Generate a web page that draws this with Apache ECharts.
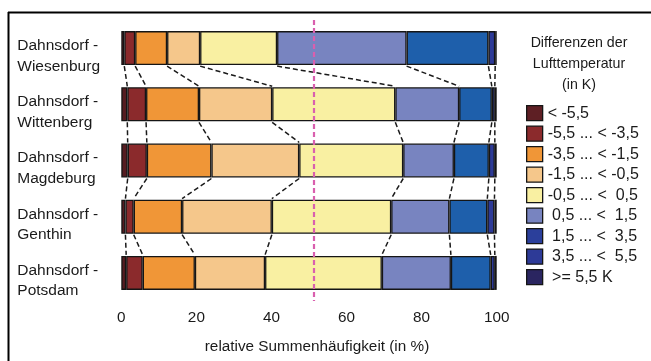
<!DOCTYPE html>
<html>
<head>
<meta charset="utf-8">
<script src="https://cdn.jsdelivr.net/npm/echarts@6/dist/echarts.min.js"></script>
<style>
html,body{margin:0;padding:0;background:#fff;}
#chart{width:651px;height:361px;}
</style>
</head>
<body>
<div id="chart"></div>
<script>
// ---- data ----
const categories = [
  'Dahnsdorf -\nWiesenburg',
  'Dahnsdorf -\nWittenberg',
  'Dahnsdorf -\nMagdeburg',
  'Dahnsdorf -\nGenthin',
  'Dahnsdorf -\nPotsdam'
];
const classLabels = [
  '< -5,5',
  '-5,5 ... < -3,5',
  '-3,5 ... < -1,5',
  '-1,5 ... < -0,5',
  '-0,5 ... <  0,5',
  ' 0,5 ... <  1,5',
  ' 1,5 ... <  3,5',
  ' 3,5 ... <  5,5',
  ' >= 5,5 K'
];
const ltM55   = [0.8, 1.6, 1.7, 1.1, 1.3];
const m55m35  = [2.9, 5.0, 5.1, 2.2, 4.4];
const m35m15  = [8.5, 14.1, 17.2, 12.9, 13.9];
const m15m05  = [8.8, 19.5, 23.4, 23.9, 18.7];
const m05p05  = [20.5, 32.8, 27.7, 31.8, 31.1];
const p05p15  = [34.5, 17.0, 13.5, 15.5, 18.4];
const p15p35  = [21.8, 8.7, 9.3, 10.1, 10.6];
const p35p55  = [1.8, 0.8, 1.6, 1.9, 1.1];
const geP55   = [0.4, 0.5, 0.5, 0.6, 0.5];
const referenceLine = 51.3;
const xTicks = [0, 20, 40, 60, 80, 100];

const seriesValues = [ltM55, m55m35, m35m15, m15m05, m05p05, p05p15, p15p35, p35p55, geP55];
const colors = ['#561c21', '#8b2a2c', '#f09637', '#f5c78b', '#f9f0a2', '#7884c0', '#1e5fab', '#2d3a97', '#2a2560'];
const legendColors = ['#5e1f24', '#8b2a2c', '#f09637', '#f5c78b', '#f9f0a2', '#7884c0', '#2b3f9b', '#2d3a97', '#2a2560'];

// cumulative boundaries for connector lines
const cum = categories.map((c, r) => {
  let s = 0; const out = [];
  for (let k = 0; k < seriesValues.length; k++) { s += seriesValues[k][r]; out.push(s); }
  return out;
});
const connectors = [];
for (let r = 0; r < categories.length - 1; r++) {
  for (let k = 0; k < seriesValues.length - 1; k++) {
    connectors.push([cum[r][k], r, cum[r + 1][k]]);
  }
}

const FONT = "'Liberation Sans', Arial, sans-serif";
const BAR_W = 34;

const chart = echarts.init(document.getElementById('chart'), null, {renderer: 'canvas'});

const barSeries = seriesValues.map((vals, i) => ({
  name: classLabels[i],
  type: 'bar',
  stack: 'total',
  barWidth: BAR_W,
  data: vals,
  itemStyle: {color: colors[i], borderColor: '#151515', borderWidth: 1.3},
  emphasis: {disabled: true},
  animation: false
}));
barSeries[barSeries.length - 1].markLine = {
  silent: true,
  symbol: ['none', 'none'],
  label: {show: false},
  lineStyle: {color: '#d95fae', width: 2.2, type: [5, 3]},
  data: [{xAxis: referenceLine}],
  z: 20
};

chart.setOption({
  animation: false,
  textStyle: {fontFamily: FONT},
  grid: {left: 121.3, right: 154.3, top: 20, bottom: 60, containLabel: false},
  xAxis: {
    type: 'value',
    min: 0, max: 100, interval: 20,
    axisLine: {show: false},
    axisTick: {show: false},
    splitLine: {show: false},
    axisLabel: {
      margin: 9, fontSize: 15.3, color: '#1a1a1a', fontFamily: FONT,
      formatter: v => (xTicks.indexOf(v) >= 0 ? String(v) : '')
    },
    name: 'relative Summenhäufigkeit (in %)',
    nameLocation: 'middle',
    nameGap: 38,
    nameTextStyle: {fontSize: 15.3, color: '#1a1a1a', fontFamily: FONT, padding: [0, 0, 0, 16]}
  },
  yAxis: {
    type: 'category',
    inverse: true,
    data: categories,
    axisLine: {show: false},
    axisTick: {show: false},
    splitLine: {show: false},
    axisLabel: {
      interval: 0,
      align: 'left', margin: 104,
      formatter: v => '{s| }\n{a|' + v.split('\n').join('}\n{a|') + '}',
      rich: {
        s: {fontSize: 1, lineHeight: 16},
        a: {fontSize: 15.5, lineHeight: 20.6, color: '#1a1a1a', fontFamily: FONT}
      }
    }
  },
  legend: {
    data: classLabels.map((n, i) => ({name: n, itemStyle: {color: legendColors[i], borderColor: '#151515', borderWidth: 1.3}})),
    orient: 'vertical',
    left: 526, top: 105,
    padding: 0,
    itemWidth: 16, itemHeight: 15, itemGap: 4.2,
    icon: 'rect',
    selectedMode: false,
    textStyle: {fontSize: 16, color: '#1a1a1a', fontFamily: FONT}
  },
  graphic: [
    {type: 'line', shape: {x1: 8, y1: 12.5, x2: 651, y2: 12.5}, style: {stroke: '#000', lineWidth: 2}, z: 100},
    {type: 'line', shape: {x1: 8.5, y1: 12, x2: 8.5, y2: 361}, style: {stroke: '#000', lineWidth: 2}, z: 100},
    {type: 'text', x: 579, y: 33, z: 100,
      style: {text: 'Differenzen der\nLufttemperatur\n(in K)', textAlign: 'center', textVerticalAlign: 'top',
        fontSize: 14.2, lineHeight: 21, fill: '#1a1a1a', fontFamily: FONT}}
  ],
  series: barSeries.concat([{
    type: 'custom',
    name: 'connectors',
    dimensions: [{name: 'x1', type: 'float'}, {name: 'row', type: 'int'}, {name: 'x2', type: 'float'}],
    data: connectors,
    encode: {x: 'x1', y: 'row'},
    z: 5,
    silent: true,
    renderItem: function (params, api) {
      const row = api.value('row');
      const p1 = api.coord([api.value('x1'), row]);
      const p2 = api.coord([api.value('x2'), row + 1]);
      const half = BAR_W / 2;
      return {
        type: 'line',
        shape: {x1: p1[0], y1: p1[1] + half + 1, x2: p2[0], y2: p2[1] - half - 1},
        style: {stroke: '#1a1a1a', lineWidth: 1.5, lineDash: [5, 3]}
      };
    }
  }])
});
</script>
</body>
</html>
